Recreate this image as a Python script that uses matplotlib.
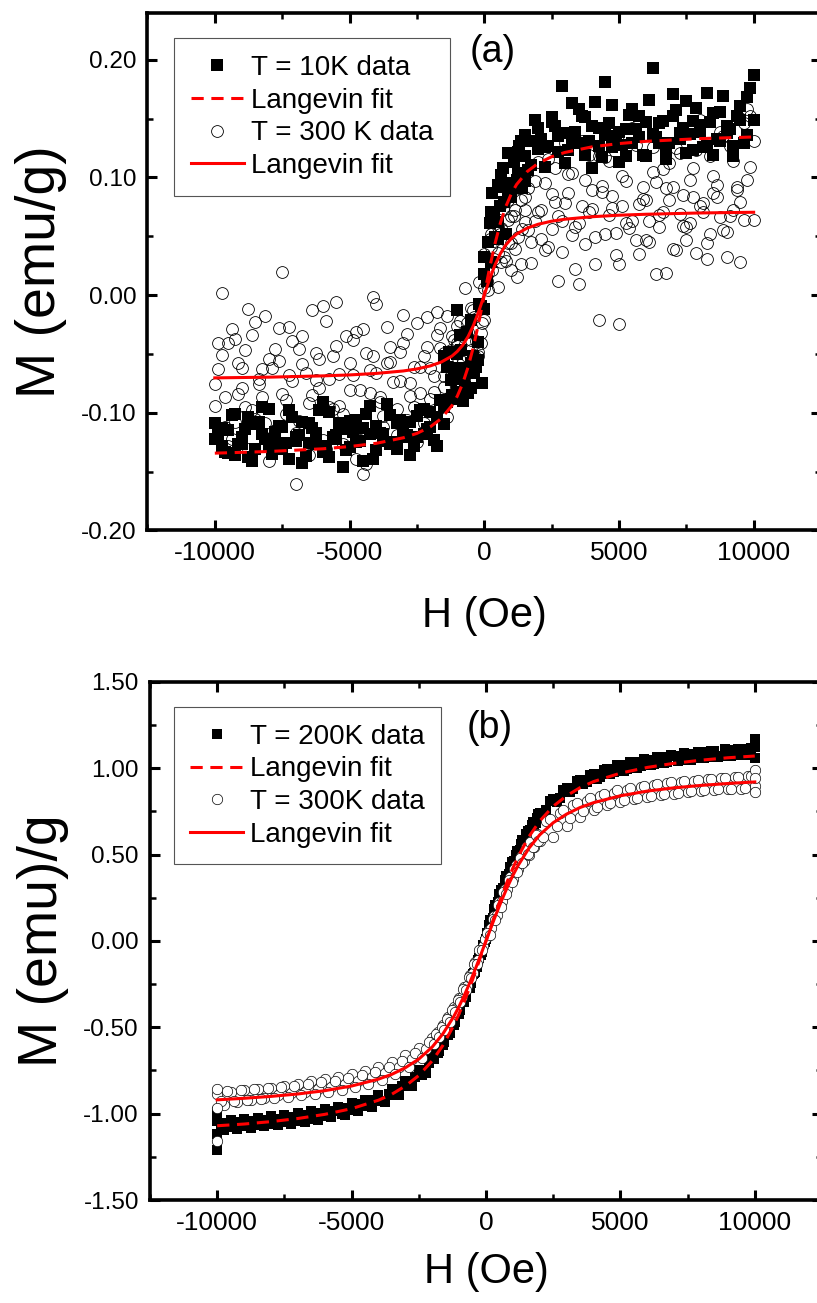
import matplotlib.pyplot as plt
from matplotlib.ticker import MultipleLocator, FormatStrFormatter

plt.rcParams['font.family'] = ['Liberation Sans', 'DejaVu Sans']
plt.rcParams['axes.unicode_minus'] = False

# ---- panel (a): 10 K and 300 K ----
H_a = [-10000, -9750, -9500, -9250, -9000, -8750, -8500, -8250, -8000, -7750,
       -7500, -7250, -7000, -6750, -6500, -6250, -6000, -5750, -5500, -5250,
       -5000, -4750, -4500, -4250, -4000, -3750, -3500, -3250, -3000, -2750,
       -2500, -2250, -2000, -1750, -1500, -1250, -1000, -750, -500, -250,
       0, 250, 500, 750, 1000, 1250, 1500, 1750, 2000, 2250,
       2500, 2750, 3000, 3250, 3500, 3750, 4000, 4250, 4500, 4750,
       5000, 5250, 5500, 5750, 6000, 6250, 6500, 6750, 7000, 7250,
       7500, 7750, 8000, 8250, 8500, 8750, 9000, 9250, 9500, 9750, 10000]

M10_dn = [-0.109, -0.128, -0.115, -0.136, -0.121, -0.104, -0.131, -0.118, -0.097, -0.125,
          -0.112, -0.139, -0.121, -0.108, -0.126, -0.117, -0.133, -0.099, -0.122, -0.114,
          -0.129, -0.106, -0.141, -0.118, -0.111, -0.124, -0.102, -0.131, -0.115, -0.108,
          -0.121, -0.097, -0.112, -0.104, -0.095, -0.088, -0.082, -0.071, -0.058, -0.040,
          -0.012, 0.028, 0.062, 0.079, 0.095, 0.104, 0.118, 0.111, 0.142, 0.126,
          0.151, 0.122, 0.138, 0.131, 0.158, 0.119, 0.144, 0.127, 0.136, 0.162,
          0.113, 0.141, 0.129, 0.152, 0.118, 0.137, 0.146, 0.124, 0.171, 0.133,
          0.121, 0.148, 0.139, 0.127, 0.155, 0.131, 0.144, 0.118, 0.161, 0.136,
          0.149]
M10_up = [-0.122, -0.113, -0.134, -0.101, -0.127, -0.138, -0.110, -0.095, -0.129, -0.116,
          -0.131, -0.098, -0.124, -0.143, -0.109, -0.127, -0.091, -0.138, -0.119, -0.146,
          -0.107, -0.125, -0.113, -0.094, -0.132, -0.118, -0.127, -0.109, -0.121, -0.136,
          -0.103, -0.118, -0.099, -0.128, -0.110, -0.072, -0.050, -0.062, -0.079, -0.055,
          0.018, 0.071, 0.048, 0.092, 0.086, 0.122, 0.097, 0.131, 0.124, 0.109,
          0.147, 0.135, 0.112, 0.163, 0.129, 0.151, 0.108, 0.142, 0.181, 0.126,
          0.139, 0.118, 0.158, 0.134, 0.147, 0.193, 0.129, 0.116, 0.152, 0.138,
          0.165, 0.123, 0.145, 0.172, 0.119, 0.156, 0.138, 0.127, 0.149, 0.168,
          0.187]
M300_dn = [-0.076, 0.002, -0.041, -0.108, -0.062, -0.131, -0.023, -0.087, -0.054, -0.115,
           0.020, -0.068, -0.161, -0.035, -0.092, -0.049, -0.123, -0.071, -0.006, -0.101,
           -0.058, -0.139, -0.029, -0.083, -0.066, -0.112, -0.044, -0.097, -0.017, -0.075,
           -0.125, -0.052, -0.088, -0.034, -0.069, -0.056, -0.043, -0.071, -0.038, -0.052,
           -0.021, 0.041, 0.058, 0.032, 0.067, 0.049, 0.083, 0.027, 0.071, 0.095,
           0.056, 0.012, 0.078, 0.104, 0.061, 0.043, 0.089, 0.118, 0.052, 0.074,
           -0.025, 0.097, 0.063, 0.035, 0.081, 0.126, 0.058, 0.019, 0.092, 0.069,
           0.047, 0.108, 0.076, 0.031, 0.087, 0.139, 0.054, 0.072, 0.028, 0.098,
           0.064]
M300_up = [-0.094, -0.051, -0.128, -0.037, -0.079, -0.012, -0.105, -0.063, -0.141, -0.046,
           -0.084, -0.027, -0.117, -0.059, -0.136, -0.072, -0.009, -0.095, -0.043, -0.127,
           -0.081, -0.031, -0.152, -0.064, -0.008, -0.103, -0.057, -0.119, -0.041, -0.086,
           -0.024, -0.109, -0.062, -0.014, -0.078, -0.047, -0.026, -0.064, -0.011, -0.048,
           0.006, 0.052, 0.036, 0.079, 0.021, 0.094, 0.062, 0.045, 0.113, 0.038,
           0.086, 0.067, 0.129, 0.051, 0.009, 0.098, 0.073, -0.021, 0.117, 0.084,
           0.026, 0.061, 0.142, 0.077, 0.047, 0.105, 0.068, 0.091, 0.039, 0.121,
           0.058, 0.083, 0.149, 0.044, 0.101, 0.066, 0.032, 0.114, 0.079, 0.158,
           0.131]

# second field grid (half-step offset)
H_a2 = [-9875, -9625, -9375, -9125, -8875, -8625, -8375, -8125, -7875, -7625,
        -7375, -7125, -6875, -6625, -6375, -6125, -5875, -5625, -5375, -5125,
        -4875, -4625, -4375, -4125, -3875, -3625, -3375, -3125, -2875, -2625,
        -2375, -2125, -1875, -1625, -1375, -1125, -875, -625, -375, -125,
        125, 375, 625, 875, 1125, 1375, 1625, 1875, 2125, 2375,
        2625, 2875, 3125, 3375, 3625, 3875, 4125, 4375, 4625, 4875,
        5125, 5375, 5625, 5875, 6125, 6375, 6625, 6875, 7125, 7375,
        7625, 7875, 8125, 8375, 8625, 8875, 9125, 9375, 9625, 9875]
M10_b = [-0.118, -0.133, -0.102, -0.127, -0.114, -0.141, -0.108, -0.122, -0.135, -0.111,
         -0.126, -0.104, -0.119, -0.137, -0.113, -0.098, -0.128, -0.121, -0.109, -0.132,
         -0.116, -0.124, -0.101, -0.139, -0.117, -0.093, -0.125, -0.106, -0.119, -0.128,
         -0.098, -0.114, -0.123, -0.089, -0.091, -0.062, -0.047, -0.031, -0.066, -0.009,
         0.045, 0.071, 0.102, 0.087, 0.118, 0.131, 0.106, 0.149, 0.133, 0.127,
         0.144, 0.178, 0.123, 0.139, 0.152, 0.131, 0.164, 0.117, 0.146, 0.135,
         0.128, 0.153, 0.141, 0.119, 0.166, 0.134, 0.148, 0.129, 0.157, 0.142,
         0.137, 0.159, 0.126, 0.147, 0.133, 0.169, 0.141, 0.152, 0.129, 0.176]
M300_b = [-0.063, -0.112, -0.029, -0.084, -0.047, -0.098, -0.071, -0.018, -0.121, -0.056,
          -0.089, -0.039, -0.107, -0.066, -0.013, -0.079, -0.131, -0.052, -0.094, -0.035,
          -0.068, -0.113, -0.049, -0.002, -0.087, -0.058, -0.126, -0.073, -0.033, -0.095,
          -0.061, -0.019, -0.082, -0.045, -0.104, -0.038, -0.066, -0.024, -0.051, -0.032,
          0.004, 0.046, 0.028, 0.064, 0.039, 0.081, 0.055, 0.097, 0.072, 0.041,
          0.108, 0.063, 0.087, 0.022, 0.076, 0.119, 0.049, 0.093, 0.068, 0.034,
          0.101, 0.057, 0.128, 0.082, 0.045, 0.096, 0.071, 0.112, 0.038, 0.085,
          0.061, 0.123, 0.078, 0.052, 0.094, 0.135, 0.067, 0.089, 0.146, 0.109]
M300_c = [-0.041, -0.087, -0.122, -0.058, -0.095, -0.034, -0.076, -0.109, -0.062, -0.028,
          -0.101, -0.073, -0.046, -0.118, -0.085, -0.054, -0.022, -0.097, -0.067, -0.113,
          -0.038, -0.081, -0.144, -0.052, -0.091, -0.027, -0.074, -0.048, -0.106, -0.061,
          -0.083, -0.044, -0.069, -0.028, -0.057, -0.071, -0.033, -0.052, -0.019, -0.041,
          0.019, 0.031, 0.057, 0.044, 0.072, 0.026, 0.091, 0.063, 0.048, 0.116,
          0.079, 0.037, 0.103, 0.058, 0.131, 0.071, 0.026, 0.088, 0.114, 0.053,
          0.076, 0.134, 0.047, 0.092, 0.063, 0.018, 0.107, 0.081, 0.125, 0.059,
          0.098, 0.036, 0.071, 0.118, 0.083, 0.055, 0.127, 0.092, 0.064, 0.152]

# extra points near zero field
H_a0 = [-1500, -1400, -1300, -1200, -1100, -1000, -900, -800, -700, -600,
        -500, -400, -300, -200, -100, 0, 100, 200, 300, 400,
        500, 600, 700, 800, 900, 1000, 1100, 1200, 1300, 1400, 1500]
M10_0 = [-0.052, -0.061, -0.048, -0.085, -0.071, -0.013, -0.034, -0.090, -0.078, -0.083,
         -0.021, -0.052, -0.061, -0.008, -0.075, 0.032, 0.012, 0.061, 0.087, 0.049,
         0.094, 0.076, 0.108, 0.052, 0.121, 0.083, 0.113, 0.098, 0.127, 0.091, 0.136]
M300_0 = [-0.049, -0.018, -0.062, -0.035, -0.074, -0.041, -0.022, -0.057, 0.006, -0.031,
          -0.047, -0.013, -0.039, 0.011, -0.024, 0.035, 0.012, 0.048, 0.021, 0.063,
          0.007, 0.052, 0.073, 0.029, 0.081, 0.044, 0.067, 0.015, 0.091, 0.056, 0.072]

# Langevin fit curves (a)
H_fit_a = [-10000, -8000, -6000, -5000, -4000, -3000, -2500, -2000, -1600, -1200,
           -1000, -800, -600, -400, -200, 0, 200, 400, 600, 800,
           1000, 1200, 1600, 2000, 2500, 3000, 4000, 5000, 6000, 8000, 10000]
fit10 = [-0.1344, -0.1330, -0.1307, -0.1288, -0.1260, -0.1213, -0.1176, -0.1120, -0.1051, -0.0940,
         -0.0859, -0.0752, -0.0613, -0.0438, -0.0230, 0.0, 0.0230, 0.0438, 0.0613, 0.0752,
         0.0859, 0.0940, 0.1051, 0.1120, 0.1176, 0.1213, 0.1260, 0.1288, 0.1307, 0.1330, 0.1344]
fit300a = [-0.0704, -0.0698, -0.0687, -0.0679, -0.0666, -0.0645, -0.0628, -0.0602, -0.0570, -0.0519,
           -0.0479, -0.0426, -0.0353, -0.0257, -0.0136, 0.0, 0.0136, 0.0257, 0.0353, 0.0426,
           0.0479, 0.0519, 0.0570, 0.0602, 0.0628, 0.0645, 0.0666, 0.0679, 0.0687, 0.0698, 0.0704]

# ---- panel (b): 200 K and 300 K ----
H_b = [-10000, -9750, -9500, -9250, -9000, -8750, -8500, -8250, -8000, -7750,
       -7500, -7250, -7000, -6750, -6500, -6250, -6000, -5750, -5500, -5250,
       -5000, -4750, -4500, -4250, -4000, -3750, -3500, -3250, -3000, -2750,
       -2500, -2250, -2000,
       -1900, -1800, -1700, -1600, -1500, -1400, -1300, -1200, -1100, -1000,
       -900, -800, -700, -600, -500, -400, -300, -200, -100, 0,
       100, 200, 300, 400, 500, 600, 700, 800, 900, 1000,
       1100, 1200, 1300, 1400, 1500, 1600, 1700, 1800, 1900,
       2000, 2250, 2500, 2750, 3000, 3250, 3500, 3750, 4000, 4250,
       4500, 4750, 5000, 5250, 5500, 5750, 6000, 6250, 6500, 6750,
       7000, 7250, 7500, 7750, 8000, 8250, 8500, 8750, 9000, 9250,
       9500, 9750, 10000]
M200 = [-1.045, -1.093, -1.035, -1.087, -1.030, -1.081, -1.023, -1.074, -1.016, -1.067,
        -1.007, -1.058, -0.998, -1.048, -0.987, -1.036, -0.974, -1.022, -0.959, -1.006,
        -0.941, -0.986, -0.919, -0.961, -0.892, -0.930, -0.857, -0.890, -0.810, -0.837,
        -0.749, -0.765, -0.674,
        -0.641, -0.648, -0.592, -0.601, -0.541, -0.547, -0.482, -0.487, -0.418, -0.423,
        -0.347, -0.351, -0.272, -0.270, -0.193, -0.178, -0.109, -0.082, -0.021, 0.012,
        0.091, 0.112, 0.183, 0.203, 0.270, 0.288, 0.353, 0.366, 0.428, 0.440,
        0.499, 0.507, 0.562, 0.567, 0.619, 0.623, 0.670, 0.670, 0.713,
        0.739, 0.755, 0.824, 0.827, 0.885, 0.880, 0.932, 0.920, 0.967, 0.951,
        0.994, 0.976, 1.016, 0.996, 1.034, 1.012, 1.049, 1.026, 1.062, 1.038,
        1.073, 1.048, 1.082, 1.057, 1.091, 1.064, 1.098, 1.071, 1.105, 1.077,
        1.110, 1.083, 1.120]
M300b = [-0.885, -0.952, -0.874, -0.931, -0.862, -0.918, -0.858, -0.907, -0.849, -0.893,
         -0.838, -0.881, -0.827, -0.874, -0.812, -0.859, -0.801, -0.846, -0.788, -0.829,
         -0.771, -0.809, -0.752, -0.788, -0.731, -0.762, -0.702, -0.729, -0.663, -0.684,
         -0.621, -0.627, -0.561,
         -0.571, -0.528, -0.536, -0.484, -0.489, -0.438, -0.441, -0.385, -0.387, -0.331,
         -0.327, -0.268, -0.262, -0.199, -0.188, -0.124, -0.109, -0.046, -0.031, 0.018,
         0.061, 0.072, 0.143, 0.151, 0.226, 0.229, 0.301, 0.298, 0.372, 0.361,
         0.437, 0.419, 0.494, 0.462, 0.541, 0.498, 0.582, 0.541, 0.621,
         0.579, 0.693, 0.601, 0.742, 0.663, 0.786, 0.719, 0.812, 0.758, 0.838,
         0.784, 0.857, 0.806, 0.873, 0.821, 0.889, 0.834, 0.902, 0.846, 0.911,
         0.853, 0.921, 0.862, 0.928, 0.869, 0.935, 0.874, 0.941, 0.877, 0.948,
         0.881, 0.953, 0.897]

# second sweep, offset field grid
H_b2 = [-9875, -9625, -9375, -9125, -8875, -8625, -8375, -8125, -7875, -7625,
        -7375, -7125, -6875, -6625, -6375, -6125, -5875, -5625, -5375, -5125,
        -4875, -4625, -4375, -4125, -3875, -3625, -3375, -3125, -2875, -2625,
        -2375, -2125,
        -1950, -1850, -1750, -1650, -1550, -1450, -1350, -1250, -1150, -1050,
        -950, -850, -750, -650, -550, -450, -350, -250, -150, -50,
        50, 150, 250, 350, 450, 550, 650, 750, 850, 950,
        1050, 1150, 1250, 1350, 1450, 1550, 1650, 1750, 1850, 1950,
        2125, 2375, 2625, 2875, 3125, 3375, 3625, 3875, 4125, 4375,
        4625, 4875, 5125, 5375, 5625, 5875, 6125, 6375, 6625, 6875,
        7125, 7375, 7625, 7875, 8125, 8375, 8625, 8875, 9125, 9375,
        9625, 9875]
M200_2 = [-1.084, -1.056, -1.078, -1.051, -1.073, -1.044, -1.066, -1.037, -1.059, -1.029,
          -1.050, -1.020, -1.040, -1.010, -1.029, -0.997, -1.015, -0.983, -1.000, -0.966,
          -0.981, -0.945, -0.957, -0.919, -0.928, -0.886, -0.891, -0.842, -0.841, -0.785,
          -0.774, -0.707,
          -0.681, -0.646, -0.638, -0.601, -0.588, -0.547, -0.532, -0.489, -0.469, -0.423,
          -0.398, -0.349, -0.322, -0.271, -0.241, -0.188, -0.153, -0.097, -0.062, -0.006,
          0.043, 0.119, 0.134, 0.209, 0.223, 0.296, 0.307, 0.377, 0.385, 0.454,
          0.460, 0.521, 0.525, 0.585, 0.583, 0.637, 0.641, 0.687, 0.683, 0.734,
          0.727, 0.809, 0.805, 0.876, 0.862, 0.926, 0.906, 0.963, 0.939, 0.992,
          0.965, 1.016, 0.986, 1.035, 1.003, 1.050, 1.017, 1.064, 1.030, 1.075,
          1.040, 1.085, 1.049, 1.094, 1.057, 1.101, 1.064, 1.108, 1.071, 1.113,
          1.076, 1.119]
M300b_2 = [-0.929, -0.867, -0.925, -0.862, -0.920, -0.857, -0.914, -0.851, -0.908, -0.845,
           -0.901, -0.838, -0.894, -0.829, -0.884, -0.819, -0.874, -0.808, -0.861, -0.794,
           -0.846, -0.777, -0.827, -0.756, -0.803, -0.729, -0.773, -0.694, -0.732, -0.647,
           -0.678, -0.583,
           -0.595, -0.537, -0.558, -0.498, -0.516, -0.453, -0.468, -0.402, -0.414, -0.344,
           -0.353, -0.280, -0.286, -0.210, -0.212, -0.134, -0.134, -0.054, -0.052, 0.009,
           0.046, 0.037, 0.129, 0.119, 0.209, 0.197, 0.285, 0.271, 0.355, 0.338,
           0.419, 0.399, 0.477, 0.453, 0.528, 0.501, 0.573, 0.543, 0.612, 0.580,
           0.603, 0.703, 0.667, 0.757, 0.714, 0.798, 0.749, 0.828, 0.776, 0.852,
           0.797, 0.871, 0.814, 0.886, 0.828, 0.899, 0.839, 0.909, 0.849, 0.919,
           0.858, 0.926, 0.865, 0.933, 0.871, 0.939, 0.877, 0.945, 0.882, 0.950,
           0.887, 0.954]

# end-of-sweep points at +/-10 kOe
H_b_end = [-10000, -10000, -10000, 10000, 10000, 10000]
M200_end = [-1.21, -1.12, -0.99, 1.17, 1.06, 1.14]
M300_end = [-1.16, -0.97, -0.86, 0.99, 0.86, 0.94]

# Langevin fit curves (b)
H_fit_b = [-10000, -9000, -8000, -7000, -6000, -5000, -4000, -3500, -3000, -2500,
           -2000, -1600, -1200, -1000, -800, -600, -400, -200, 0, 200,
           400, 600, 800, 1000, 1200, 1600, 2000, 2500, 3000, 3500,
           4000, 5000, 6000, 7000, 8000, 9000, 10000]
fit200 = [-1.070, -1.060, -1.046, -1.028, -1.004, -0.971, -0.922, -0.887, -0.840, -0.779,
          -0.694, -0.604, -0.489, -0.421, -0.347, -0.267, -0.181, -0.091, 0.0, 0.091,
          0.181, 0.267, 0.347, 0.421, 0.489, 0.604, 0.694, 0.779, 0.840, 0.887,
          0.922, 0.971, 1.004, 1.028, 1.046, 1.060, 1.070]
fit300b = [-0.920, -0.911, -0.900, -0.886, -0.867, -0.840, -0.800, -0.772, -0.734, -0.684,
           -0.614, -0.537, -0.438, -0.379, -0.313, -0.241, -0.164, -0.083, 0.0, 0.083,
           0.164, 0.241, 0.313, 0.379, 0.438, 0.537, 0.614, 0.684, 0.734, 0.772,
           0.800, 0.840, 0.867, 0.886, 0.900, 0.911, 0.920]


def style_axes(ax, ymaj, ymin):
    ax.set_xlim(-12500, 12500)
    ax.xaxis.set_major_locator(MultipleLocator(5000))
    ax.xaxis.set_minor_locator(MultipleLocator(2500))
    ax.yaxis.set_major_locator(MultipleLocator(ymaj))
    ax.yaxis.set_minor_locator(MultipleLocator(ymin))
    ax.yaxis.set_major_formatter(FormatStrFormatter('%.2f'))
    ax.tick_params(which='both', direction='in', top=True, right=True)
    ax.tick_params(axis='x', labelsize=19)
    ax.tick_params(axis='y', labelsize=17.5)
    ax.tick_params(which='major', length=7.5, width=2.2, pad=8)
    ax.tick_params(which='minor', length=4, width=1.8)
    for sp in ax.spines.values():
        sp.set_linewidth(2.6)


def add_legend(ax, handles, labels, anchor):
    leg = ax.legend(handles, labels, loc='upper left', bbox_to_anchor=anchor,
                    borderaxespad=0, fontsize=20, handlelength=1.9, handletextpad=0.25,
                    labelspacing=0.24, borderpad=0.6, fancybox=False,
                    edgecolor='#555555', framealpha=1)
    leg.get_frame().set_linewidth(0.8)


fig = plt.figure(figsize=(8.17, 13.03), dpi=100)
ax1 = fig.add_axes([0.1805, 0.5930, 0.8244, 0.3972])
ax2 = fig.add_axes([0.1836, 0.0790, 0.8225, 0.3978])

# (a)
circ = ax1.plot(H_a + H_a + H_a2 + H_a2 + H_a0,
                M300_dn + M300_up + M300_b + M300_c + M300_0, 'o', ms=8.5,
                mfc='none', mec='black', mew=0.6, zorder=2)[0]
sq = ax1.plot(H_a + H_a + H_a2 + H_a0, M10_dn + M10_up + M10_b + M10_0, 's', ms=8,
              color='black', mew=0, zorder=3)[0]
dash = ax1.plot(H_fit_a, fit10, '--', color='red', lw=2.2, dashes=(4, 2.5), zorder=4)[0]
solid = ax1.plot(H_fit_a, fit300a, '-', color='red', lw=2.2, zorder=4)[0]
ax1.set_ylim(-0.20, 0.24)
style_axes(ax1, 0.1, 0.05)
ax1.set_xlabel('H (Oe)', fontsize=30, labelpad=22)
ax1.set_ylabel('M (emu/g)', fontsize=40, labelpad=10)
ax1.text(0.513, 0.924, '(a)', transform=ax1.transAxes, fontsize=27,
         ha='center', va='center')
add_legend(ax1, [sq, dash, circ, solid],
           ['T = 10K data', 'Langevin fit', 'T = 300 K data', 'Langevin fit'],
           (0.040, 0.9505))

# (b)
sq2 = ax2.plot(H_b + H_b2 + H_b_end, M200 + M200_2 + M200_end, 's', ms=7,
               color='black', mew=0, zorder=2)[0]
circ2 = ax2.plot(H_b + H_b2 + H_b_end, M300b + M300b_2 + M300_end, 'o', ms=7.5,
                 mfc='white', mec='black', mew=0.5, zorder=3)[0]
dash2 = ax2.plot(H_fit_b, fit200, '--', color='red', lw=2.2, dashes=(4, 2.5), zorder=4)[0]
solid2 = ax2.plot(H_fit_b, fit300b, '-', color='red', lw=2.2, zorder=4)[0]
ax2.set_ylim(-1.5, 1.5)
style_axes(ax2, 0.5, 0.25)
ax2.set_xlabel('H (Oe)', fontsize=30, labelpad=12)
ax2.set_ylabel('M (emu)/g', fontsize=40, labelpad=10)
ax2.text(0.506, 0.911, '(b)', transform=ax2.transAxes, fontsize=27,
         ha='center', va='center')
add_legend(ax2, [sq2, dash2, circ2, solid2],
           ['T = 200K data', 'Langevin fit', 'T = 300K data', 'Langevin fit'],
           (0.035, 0.951))

fig.savefig('out.png', dpi=100)
